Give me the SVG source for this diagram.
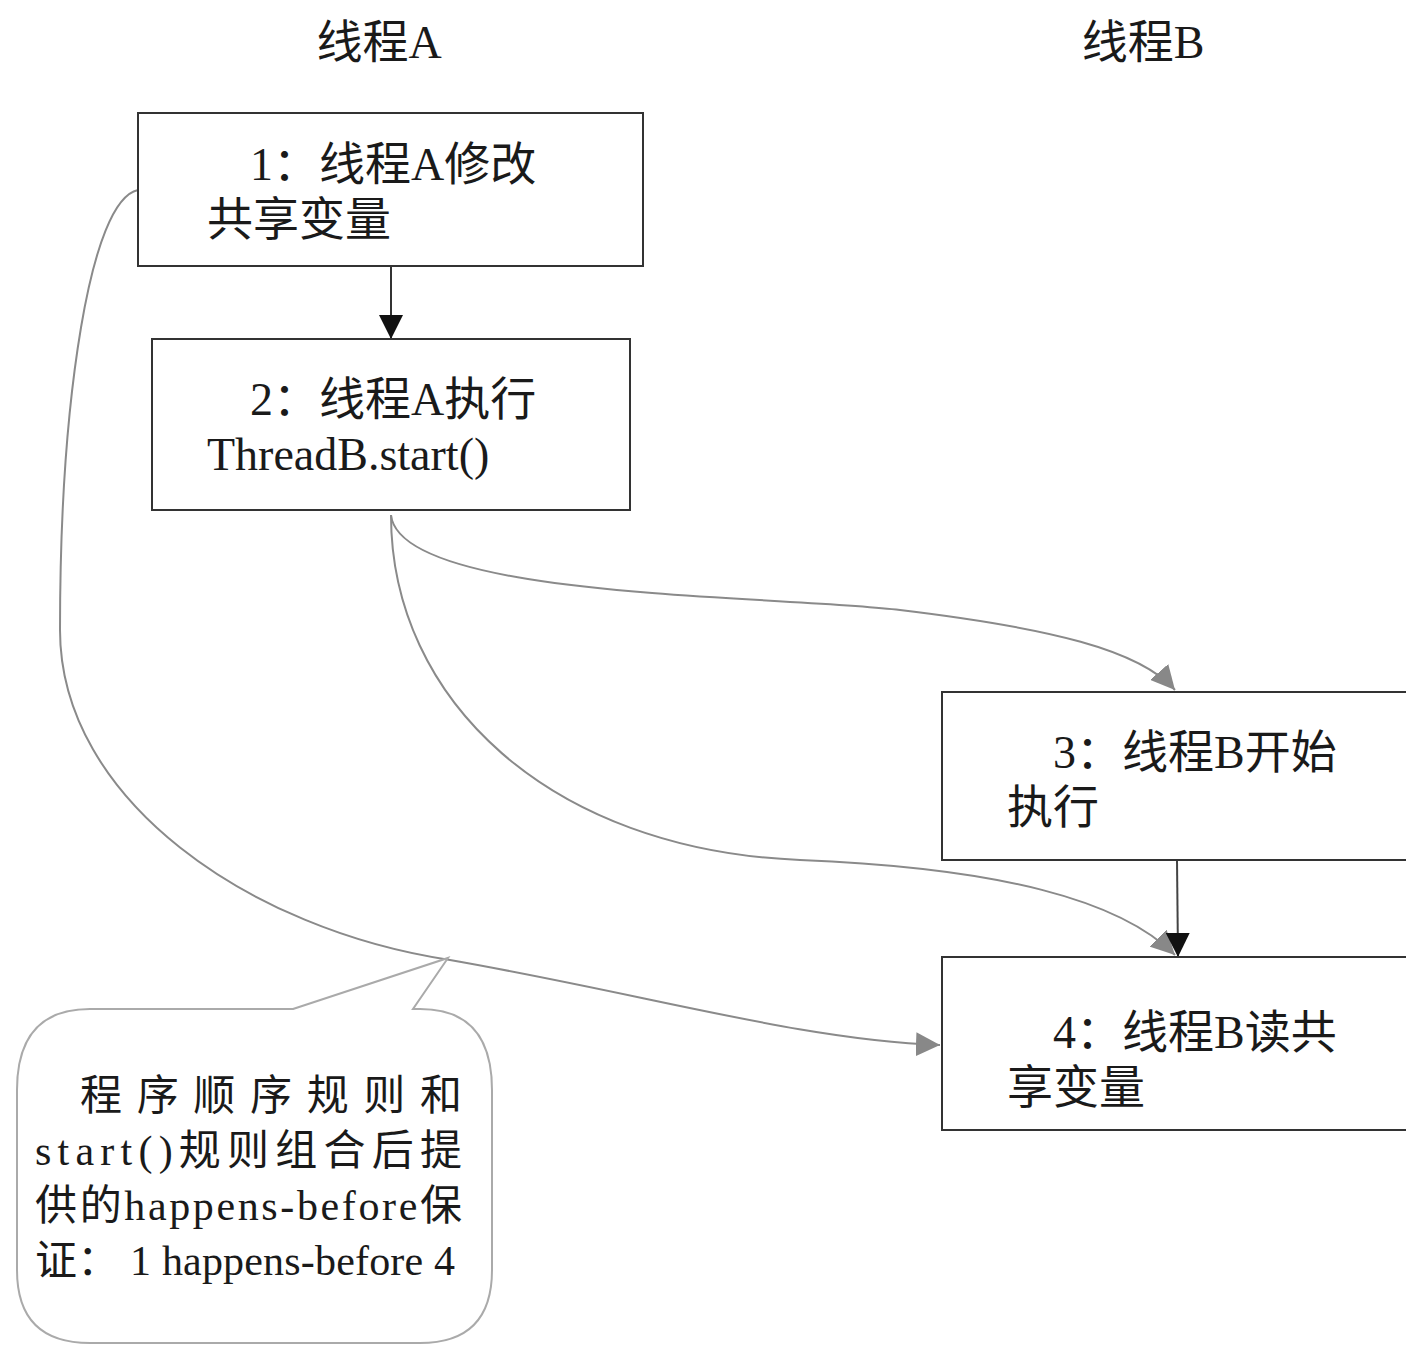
<svg xmlns="http://www.w3.org/2000/svg" width="1406" height="1346" viewBox="0 0 1406 1346">
<style>
.t{font-family:"Liberation Serif","Noto Sans CJK SC",serif;font-size:46px;fill:#1a1a1a}
.n{font-family:"Liberation Serif","Noto Sans CJK SC",serif;font-size:42px;fill:#1a1a1a}
.h{font-family:"Liberation Serif","Noto Sans CJK SC",serif;font-size:46px;fill:#1a1a1a}
.box{fill:#fff;stroke:#333;stroke-width:2}
.c{fill:none;stroke:#8a8a8a;stroke-width:2}
</style>
<defs>
<marker id="ag" viewBox="0 0 12 12" markerWidth="24" markerHeight="24" refX="12" refY="6" orient="auto" markerUnits="userSpaceOnUse"><path d="M0,0 L12,6 L0,12 Z" fill="#888"/></marker>
<marker id="ak" viewBox="0 0 12 12" markerWidth="24" markerHeight="24" refX="12" refY="6" orient="auto" markerUnits="userSpaceOnUse"><path d="M0,0 L12,6 L0,12 Z" fill="#111"/></marker>
</defs>
<rect width="1406" height="1346" fill="#fff"/>
<text class="h" x="379" y="58" text-anchor="middle">线程A</text>
<text class="h" x="1143" y="58" text-anchor="middle">线程B</text>
<g id="connectors">
<path class="c" d="M138,190 C90,200 60,400 60,630 C60,800 250,930 450,960 C650,995 800,1040 940,1045" marker-end="url(#ag)"/>
<path class="c" d="M391,515 C400,600 780,595 900,610 C1050,628 1140,650 1175,690" marker-end="url(#ag)"/>
<path class="c" d="M391,515 C391,700 550,850 800,860 C1000,868 1120,900 1175,955" marker-end="url(#ag)"/>
<line x1="391" y1="266" x2="391" y2="339" stroke="#333" stroke-width="2" marker-end="url(#ak)"/>
<line x1="1177" y1="860" x2="1178" y2="957" stroke="#444" stroke-width="2" marker-end="url(#ak)"/>
</g>
<g id="n1"><rect class="box" x="138" y="113" width="505" height="153"/>
<text class="t" x="250" y="180">1：线程A修改</text><text class="t" x="207" y="235">共享变量</text></g>
<g id="n2"><rect class="box" x="152" y="339" width="478" height="171"/>
<text class="t" x="250" y="415">2：线程A执行</text><text class="t" x="207" y="470">ThreadB.start()</text></g>
<g id="n3"><rect class="box" x="942" y="692" width="470" height="168"/>
<text class="t" x="1053" y="768">3：线程B开始</text><text class="t" x="1007" y="823">执行</text></g>
<g id="n4"><rect class="box" x="942" y="957" width="470" height="173"/>
<text class="t" x="1053" y="1048">4：线程B读共</text><text class="t" x="1007" y="1103">享变量</text></g>
<g id="note">
<path d="M293,1009 L448,958 L413,1009 L420,1009 Q492,1009 492,1090 L492,1270 Q492,1343 420,1343 L90,1343 Q17,1343 17,1270 L17,1090 Q17,1009 90,1009 Z" fill="#fff" stroke="#aaa" stroke-width="2"/>
<text class="n" x="80" y="1110" textLength="382" lengthAdjust="spacing">程序顺序规则和</text>
<text class="n" x="35" y="1165" textLength="427" lengthAdjust="spacing">start()规则组合后提</text>
<text class="n" x="35" y="1220" textLength="427" lengthAdjust="spacing">供的happens-before保</text>
<text class="n" x="35" y="1275" textLength="420" lengthAdjust="spacing">证： 1 happens-before 4</text>
</g>
</svg>
